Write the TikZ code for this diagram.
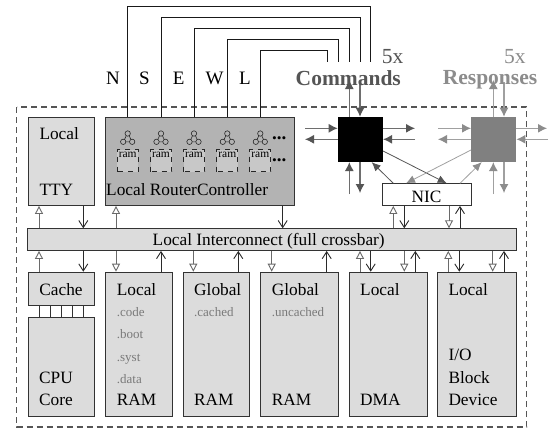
\documentclass[tikz,border=0pt]{standalone}
\usepackage{fontspec}
\setmainfont{Liberation Serif}
\usetikzlibrary{arrows.meta}
\definecolor{lgray}{HTML}{DCDCDC}
\definecolor{rgray}{HTML}{B3B3B3}
\definecolor{ramgray}{HTML}{C8C8C8}
\definecolor{cmdc}{HTML}{555555}
\definecolor{cmdl}{HTML}{6E6E6E}
\definecolor{rspc}{HTML}{8C8C8C}
\definecolor{rspl}{HTML}{A0A0A0}
\definecolor{sqgray}{HTML}{808080}
\definecolor{smallc}{HTML}{7A7A7A}
\definecolor{oarc}{HTML}{6A6A6A}
\definecolor{varc}{HTML}{2A2A2A}
\newcommand{\fsz}[1]{\fontsize{#1}{#1}\selectfont}
\begin{document}
\begin{tikzpicture}[x=1pt,y=-1pt,
  box/.style={draw=black!80, line width=0.9pt, fill=lgray, inner sep=0pt, anchor=north west},
  txt/.style={inner sep=0pt, anchor=base west, font=\fsz{17.3}},
  small/.style={inner sep=0pt, anchor=base west, font=\fsz{13}, text=smallc},
  wire/.style={draw=black!90, line width=0.9pt},
  link/.style={draw=black!80, line width=0.9pt},
  oarr/.style={draw=oarc, line width=0.9pt, -{Triangle[open, length=8pt, width=8pt]}},
  varr/.style={draw=varc, line width=0.9pt, -{Straight Barb[length=7pt, width=9pt]}},
  carr/.style={draw=cmdl, line width=1.1pt, -{Latex[length=9pt, width=9pt, color=cmdc]}},
  rarr/.style={draw=rspl, line width=1.1pt, -{Latex[length=9pt, width=9pt, color=rspc]}},
  cdiag/.style={draw=cmdc, line width=0.8pt, -{Latex[length=9pt, width=8pt, color=cmdc]}},
  rdiag/.style={draw=rspl, line width=0.8pt, -{Latex[length=9pt, width=8pt, color=rspc]}},
  icon/.style={draw=black!85, line width=0.6pt},
  rambox/.style={draw=black!85, line width=0.8pt, dash pattern=on 5pt off 5pt, dash phase=-1pt, fill=ramgray, minimum width=21pt, minimum height=22pt, inner sep=0pt},
  lbl/.style={inner sep=0pt, anchor=base, font=\fsz{19}}
]
\useasboundingbox (0,0) rectangle (551,431);
\fill[white] (0,0) rectangle (551,431);

% outer dashed frame
\draw[draw=cmdc, line width=1.1pt, dash pattern=on 6pt off 4pt] (16.7,107) rectangle (526.7,427);

% boxes
\node[box, minimum width=66.6pt, minimum height=88.3pt] (tty) at (27.7,116.7) {};
\node[box, fill=rgray, minimum width=188.7pt, minimum height=88.3pt] (rc) at (105.3,116.7) {};
\node[box, fill=white, minimum width=88.4pt, minimum height=21.7pt] (nic) at (382.3,183.3) {};
\node[box, minimum width=488.4pt, minimum height=21.7pt] (bar) at (27.3,228.3) {};
\node[box, minimum width=66.6pt, minimum height=33.3pt] (cache) at (27.7,271.7) {};
\node[box, minimum width=66.6pt, minimum height=99.3pt] (cpu) at (27.7,316.7) {};
\node[box, minimum width=66.4pt, minimum height=144.3pt] (lram) at (105.3,271.7) {};
\node[box, minimum width=66.6pt, minimum height=144.3pt] (gram) at (182.7,271.7) {};
\node[box, minimum width=78.3pt, minimum height=144.3pt] (uram) at (260,271.7) {};
\node[box, minimum width=77.7pt, minimum height=144.3pt] (dma) at (349,271.7) {};
\node[box, minimum width=78.4pt, minimum height=144.3pt] (io) at (437.3,271.7) {};

% squares
\node[fill=black, minimum size=45pt, inner sep=0pt, anchor=north west] (cmd) at (337.7,116.7) {};
\node[fill=sqgray, minimum size=45pt, inner sep=0pt, anchor=north west] (rsp) at (471,116.7) {};

% router wires N S E W L
\coordinate (eN) at (370.7,62);
\coordinate (eS) at (360,62);
\coordinate (eE) at (349,62);
\coordinate (eW) at (338,62);
\coordinate (eL) at (327,62);
\draw[wire] (127.7,0 |- rc.north) |- (eN |- 0,6) -- (eN);
\draw[wire] (161,0 |- rc.north) |- (eS |- 0,17.3) -- (eS);
\draw[wire] (194,0 |- rc.north) |- (eE |- 0,28.3) -- (eE);
\draw[wire] (227.3,0 |- rc.north) |- (eW |- 0,39.7) -- (eW);
\draw[wire] (260.3,0 |- rc.north) |- (eL |- 0,50.7) -- (eL);
\node[lbl] (lN) at (113,84.3) {N};
\node[lbl] (lS) at (144.5,84.3) {S};
\node[lbl] (lE) at (178.8,84.3) {E};
\node[lbl] (lW) at (214.5,84.3) {W};
\node[lbl] (lL) at (245,84.3) {L};

% router icons
\foreach \x [count=\i] in {127.7,161,194,227.3,260.3}{
  \draw[icon] (\x,133.5) circle (2.7pt) ({\x-4.5},141.8) circle (2.7pt) ({\x+4.5},141.8) circle (2.7pt);
  \draw[icon] ({\x-1.5},135.8) -- ({\x-3.2},139.5) ({\x+1.5},135.8) -- ({\x+3.2},139.5) ({\x-1.8},141.8) -- ({\x+1.8},141.8);
  \node[rambox] (ram\i) at (\x,160.5) {};
  \node[inner sep=0pt, anchor=base, font=\fsz{11.5}] (ramt\i) at (\x,157) {ram};
}
\node[inner sep=0pt, anchor=base west, font=\fsz{19}\bfseries] (dots1) at (272,139.5) {...};
\node[inner sep=0pt, anchor=base west, font=\fsz{19}\bfseries] (dots2) at (272,161.5) {...};

% texts
\node[txt] (t1) at (39.3,139.5) {Local};
\node[txt] (t2) at (39.3,195.7) {TTY};
\node[txt] (t3) at (106,195.7) {Local RouterController};
\node[txt, anchor=base] (t4) at (426.5,202) {NIC};
\node[txt, anchor=base] (t5) at (268.7,245.5) {Local Interconnect (full crossbar)};
\node[txt, anchor=base] (t6) at (61,295) {Cache};
\node[txt] (t7) at (39,383.3) {CPU};
\node[txt] (t8) at (39,405.7) {Core};
\node[txt] (t9) at (116.7,295) {Local};
\node[small] (s1) at (116.7,316) {.code};
\node[small] (s2) at (116.7,338.5) {.boot};
\node[small] (s3) at (116.7,361) {.syst};
\node[small] (s4) at (116.7,383.5) {.data};
\node[txt] (t10) at (116.7,405.7) {RAM};
\node[txt] (t11) at (194,295) {Global};
\node[small] (s5) at (194,316) {.cached};
\node[txt] (t12) at (194,405.7) {RAM};
\node[txt] (t13) at (271.7,295) {Global};
\node[small] (s6) at (271.7,316) {.uncached};
\node[txt] (t14) at (271.7,405.7) {RAM};
\node[txt] (t15) at (360,295) {Local};
\node[txt] (t16) at (360,405.7) {DMA};
\node[txt] (t17) at (448.3,295) {Local};
\node[txt] (t18) at (448.3,360.7) {I/O};
\node[txt] (t19) at (448.3,383.3) {Block};
\node[txt] (t20) at (448.3,405.7) {Device};

% cache - cpu links
\foreach \x in {39,50,61,72,83.3}{
  \draw[link] (\x,0 |- cache.south) -- (\x,0 |- cpu.north);
}

% command arrows
\draw[carr] (349.3,0 |- cmd.north) -- (349.3,80);
\draw[carr] (360,82) -- (360,0 |- cmd.north);
\draw[carr] (349.3,194) -- (349.3,0 |- cmd.south);
\draw[carr] (360,0 |- cmd.south) -- (360,193);
\draw[carr] (305,128.3) -- (cmd.west |- 0,128.3);
\draw[carr] (cmd.west |- 0,139.3) -- (305,139.3);
\draw[carr] (cmd.east |- 0,128.3) -- (415,128.3);
\draw[carr] (415,139.3) -- (cmd.east |- 0,139.3);

% response arrows
\draw[rarr] (493.3,0 |- rsp.north) -- (493.3,80);
\draw[rarr] (504,82) -- (504,0 |- rsp.north);
\draw[rarr] (493.3,194) -- (493.3,0 |- rsp.south);
\draw[rarr] (504,0 |- rsp.south) -- (504,193);
\draw[rarr] (438,128.3) -- (rsp.west |- 0,128.3);
\draw[rarr] (rsp.west |- 0,139.3) -- (438,139.3);
\draw[rarr] (rsp.east |- 0,128.3) -- (547,128.3);
\draw[rarr] (548,139.3) -- (rsp.east |- 0,139.3);

% diagonals
\draw[cdiag] (cmd.east |- 0,151) -- (446.7,0 |- nic.north);
\draw[cdiag] (393.3,0 |- nic.north) -- (371.7,0 |- cmd.south);
\draw[rdiag] (rsp.west |- 0,150) -- (406,0 |- nic.north);
\draw[rdiag] (460,0 |- nic.north) -- (481.7,0 |- rsp.south);

% 5x / Commands / Responses
\node[inner sep=0pt, anchor=base west, font=\fsz{21.5}, text=cmdc] (c5) at (381.7,63.3) {5x};
\node[inner sep=0pt, anchor=base, font=\fsz{21.5}\bfseries, text=cmdc] (ctx) at (348.3,85) {Commands};
\node[inner sep=0pt, anchor=base west, font=\fsz{21.5}, text=rspc] (r5) at (504,63.3) {5x};
\node[inner sep=0pt, anchor=base, font=\fsz{21.5}\bfseries, text=rspc] (rtx) at (490,84.5) {Responses};

% upper arrows to interconnect
\draw[oarr] (39,0 |- bar.north) -- (39,0 |- tty.south);
\draw[varr] (83.3,0 |- tty.south) -- (83.3,0 |- bar.north);
\draw[oarr] (116,0 |- bar.north) -- (116,0 |- rc.south);
\draw[varr] (282.7,0 |- rc.south) -- (282.7,0 |- bar.north);
\draw[oarr] (393.3,0 |- bar.north) -- (393.3,0 |- nic.south);
\draw[varr] (404.3,0 |- nic.south) -- (404.3,0 |- bar.north);
\draw[oarr] (449,0 |- nic.south) -- (449,0 |- bar.north);
\draw[varr] (460,0 |- bar.north) -- (460,0 |- nic.south);

% lower arrows
\draw[oarr] (39,0 |- cache.north) -- (39,0 |- bar.south);
\draw[varr] (83.3,0 |- bar.south) -- (83.3,0 |- cache.north);
\draw[oarr] (116,0 |- bar.south) -- (116,0 |- lram.north);
\draw[varr] (161,0 |- lram.north) -- (161,0 |- bar.south);
\draw[oarr] (193.3,0 |- bar.south) -- (193.3,0 |- gram.north);
\draw[varr] (238.3,0 |- gram.north) -- (238.3,0 |- bar.south);
\draw[oarr] (271.7,0 |- bar.south) -- (271.7,0 |- uram.north);
\draw[varr] (326.7,0 |- uram.north) -- (326.7,0 |- bar.south);
\draw[oarr] (360,0 |- dma.north) -- (360,0 |- bar.south);
\draw[varr] (370.7,0 |- bar.south) -- (370.7,0 |- dma.north);
\draw[oarr] (404.3,0 |- bar.south) -- (404.3,0 |- dma.north);
\draw[varr] (415.3,0 |- dma.north) -- (415.3,0 |- bar.south);
\draw[oarr] (448.3,0 |- io.north) -- (448.3,0 |- bar.south);
\draw[varr] (459.3,0 |- bar.south) -- (459.3,0 |- io.north);
\draw[oarr] (492.7,0 |- bar.south) -- (492.7,0 |- io.north);
\draw[varr] (504,0 |- io.north) -- (504,0 |- bar.south);
\end{tikzpicture}
\end{document}
